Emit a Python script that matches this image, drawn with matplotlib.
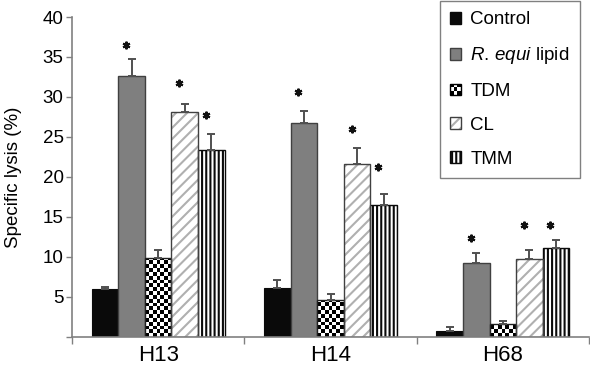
import numpy as np
import matplotlib
matplotlib.use("Agg")
import matplotlib.pyplot as plt
from matplotlib.patches import Patch, Rectangle
from matplotlib.legend_handler import HandlerBase

plt.rcParams['font.family'] = ['Liberation Sans', 'DejaVu Sans']
plt.rcParams['mathtext.fontset'] = 'custom'
plt.rcParams['mathtext.it'] = 'Liberation Sans:italic'
plt.rcParams['mathtext.rm'] = 'Liberation Sans'
plt.rcParams['hatch.linewidth'] = 1.5

# ---- data ----
groups = ["H13", "H14", "H68"]
series = ["Control", r"$\mathit{R.}\,\mathit{equi}$ lipid", "TDM", "CL", "TMM"]
control = [6.0, 6.05, 0.7]
control_err = [0.2, 1.05, 0.5]
requi = [32.6, 26.8, 9.2]
requi_err = [2.1, 1.5, 1.3]
tdm = [9.9, 4.65, 1.55]
tdm_err = [1.0, 0.65, 0.4]
cl = [28.1, 21.6, 9.7]
cl_err = [1.0, 2.0, 1.1]
tmm = [23.4, 16.45, 11.05]
tmm_err = [2.0, 1.45, 1.05]
# significance-star heights (NaN = no star)
control_star = [np.nan, np.nan, np.nan]
requi_star = [36.5, 30.6, 12.4]
tdm_star = [np.nan, np.nan, np.nan]
cl_star = [31.7, 26.0, 13.95]
tmm_star = [27.8, 21.2, 13.95]
yticks = [5, 10, 15, 20, 25, 30, 35, 40]

values = [control, requi, tdm, cl, tmm]
errors = [control_err, requi_err, tdm_err, cl_err, tmm_err]
stars = [control_star, requi_star, tdm_star, cl_star, tmm_star]

W, H = 590, 368
fig = plt.figure(figsize=(W / 100, H / 100), dpi=100)
ax = fig.add_axes([72 / W, 1 - 336.7 / H, 517 / W, (336.7 - 17) / H])
ax.set_xlim(-0.5, 2.5)
ax.set_ylim(0, 40)

x = np.arange(len(groups))
width = 0.154
edge_dark = '#404040'
ecol = '#505050'

px_per_x = ax.get_position().width * W / 3.0
px_per_y = ax.get_position().height * H / 40.0

for i, (vals, errs, st) in enumerate(zip(values, errors, stars)):
    xs = x + (i - 2) * width
    if i == 0:
        ax.bar(xs, vals, width, color='#0a0a0a', edgecolor='#0a0a0a', lw=0.8, zorder=1)
    elif i == 1:
        ax.bar(xs, vals, width, color='#7f7f7f', edgecolor=edge_dark, lw=1.0, zorder=1)
    elif i == 2:
        bars = ax.bar(xs, vals, width, color='white', edgecolor='none', zorder=1)
        ncols = 7
        check_px = width * px_per_x / ncols
        check_dy = check_px / px_per_y
        for b in bars:
            h = b.get_height()
            nrows = int(np.ceil(h / check_dy))
            img = np.indices((nrows, ncols)).sum(axis=0) % 2
            im = ax.imshow(img, cmap='gray', vmin=0, vmax=1, origin='lower',
                           extent=[b.get_x(), b.get_x() + b.get_width(), 0, nrows * check_dy],
                           aspect='auto', interpolation='nearest', zorder=1.1)
            im.set_clip_path(b)
        ax.bar(xs, vals, width, fill=False, edgecolor='#202020', lw=1.0, zorder=1.2)
    elif i == 3:
        ax.bar(xs, vals, width, color='white', edgecolor='#b0b0b0', hatch='///', lw=0, zorder=1)
        ax.bar(xs, vals, width, fill=False, edgecolor=edge_dark, lw=1.0, zorder=1.2)
    else:
        ax.bar(xs, vals, width, color='white', edgecolor='#0a0a0a', hatch='||||', lw=1.0, zorder=1)
    ax.errorbar(xs, vals, yerr=[np.zeros(len(vals)), errs], fmt='none', ecolor=ecol,
                elinewidth=1.4, capsize=3.2, capthick=1.4, zorder=2)
    ax.plot(xs - 0.032, st, ls='none', marker=(6, 2, 0), ms=5.5, mew=1.5,
            color='#111111', zorder=3)

ax.set_xlim(-0.5, 2.5)
ax.set_ylim(0, 40)

for s in ['top', 'right']:
    ax.spines[s].set_visible(False)
for s in ['left', 'bottom']:
    ax.spines[s].set_color('#808080')
    ax.spines[s].set_linewidth(1.2)

ax.set_yticks([0] + yticks)
ax.set_yticklabels([''] + [str(t) for t in yticks], fontsize=13.5)
ax.tick_params(axis='y', direction='out', length=4, width=1, color='#808080', pad=2)
ax.set_xticks(x)
ax.set_xticklabels(groups, fontsize=16)
ax.set_xticks([-0.5, 0.5, 1.5, 2.5], minor=True)
ax.tick_params(axis='x', which='major', length=0, pad=6)
ax.tick_params(axis='x', which='minor', direction='out', length=5, width=1, color='#808080')
ax.set_ylabel('Specific lysis (%)', fontsize=13.5)
ax.yaxis.set_label_coords(-50 / 517, 0.5)


class CheckerHandler(HandlerBase):
    def create_artists(self, legend, orig_handle, xdescent, ydescent, width, height, fontsize, trans):
        arts = []
        n = 3
        cw, ch = width / n, height / n
        arts.append(Rectangle((-xdescent, -ydescent), width, height, facecolor='white',
                              edgecolor='none', transform=trans))
        for r in range(n):
            for c in range(n):
                if (r + c) % 2 == 0:
                    arts.append(Rectangle((-xdescent + c * cw, -ydescent + r * ch), cw, ch,
                                          facecolor='black', edgecolor='none', transform=trans))
        arts.append(Rectangle((-xdescent, -ydescent), width, height, fill=False,
                              edgecolor='black', lw=1.0, transform=trans))
        return arts


h_control = Patch(facecolor='#0a0a0a', edgecolor='#0a0a0a')
h_requi = Patch(facecolor='#7f7f7f', edgecolor=edge_dark)
h_tdm = Patch(facecolor='white', edgecolor='black')
h_cl = (Patch(facecolor='white', edgecolor='#b0b0b0', hatch='///', lw=0),
        Patch(fill=False, edgecolor=edge_dark, lw=1.0))
h_tmm = Patch(facecolor='white', edgecolor='#0a0a0a', hatch='||||')

leg = ax.legend([h_control, h_requi, h_tdm, h_cl, h_tmm], series,
                handler_map={h_tdm: CheckerHandler()},
                loc='upper right', bbox_to_anchor=(580 / W, 1 - 1 / H),
                bbox_transform=fig.transFigure, borderaxespad=0, fontsize=13.5,
                handlelength=0.6, handleheight=0.6, handletextpad=0.5,
                labelspacing=0.9, borderpad=0.55, fancybox=False, framealpha=1)
leg.get_frame().set_edgecolor('#808080')
leg.get_frame().set_linewidth(1.0)

fig.savefig('out.png', dpi=100)
